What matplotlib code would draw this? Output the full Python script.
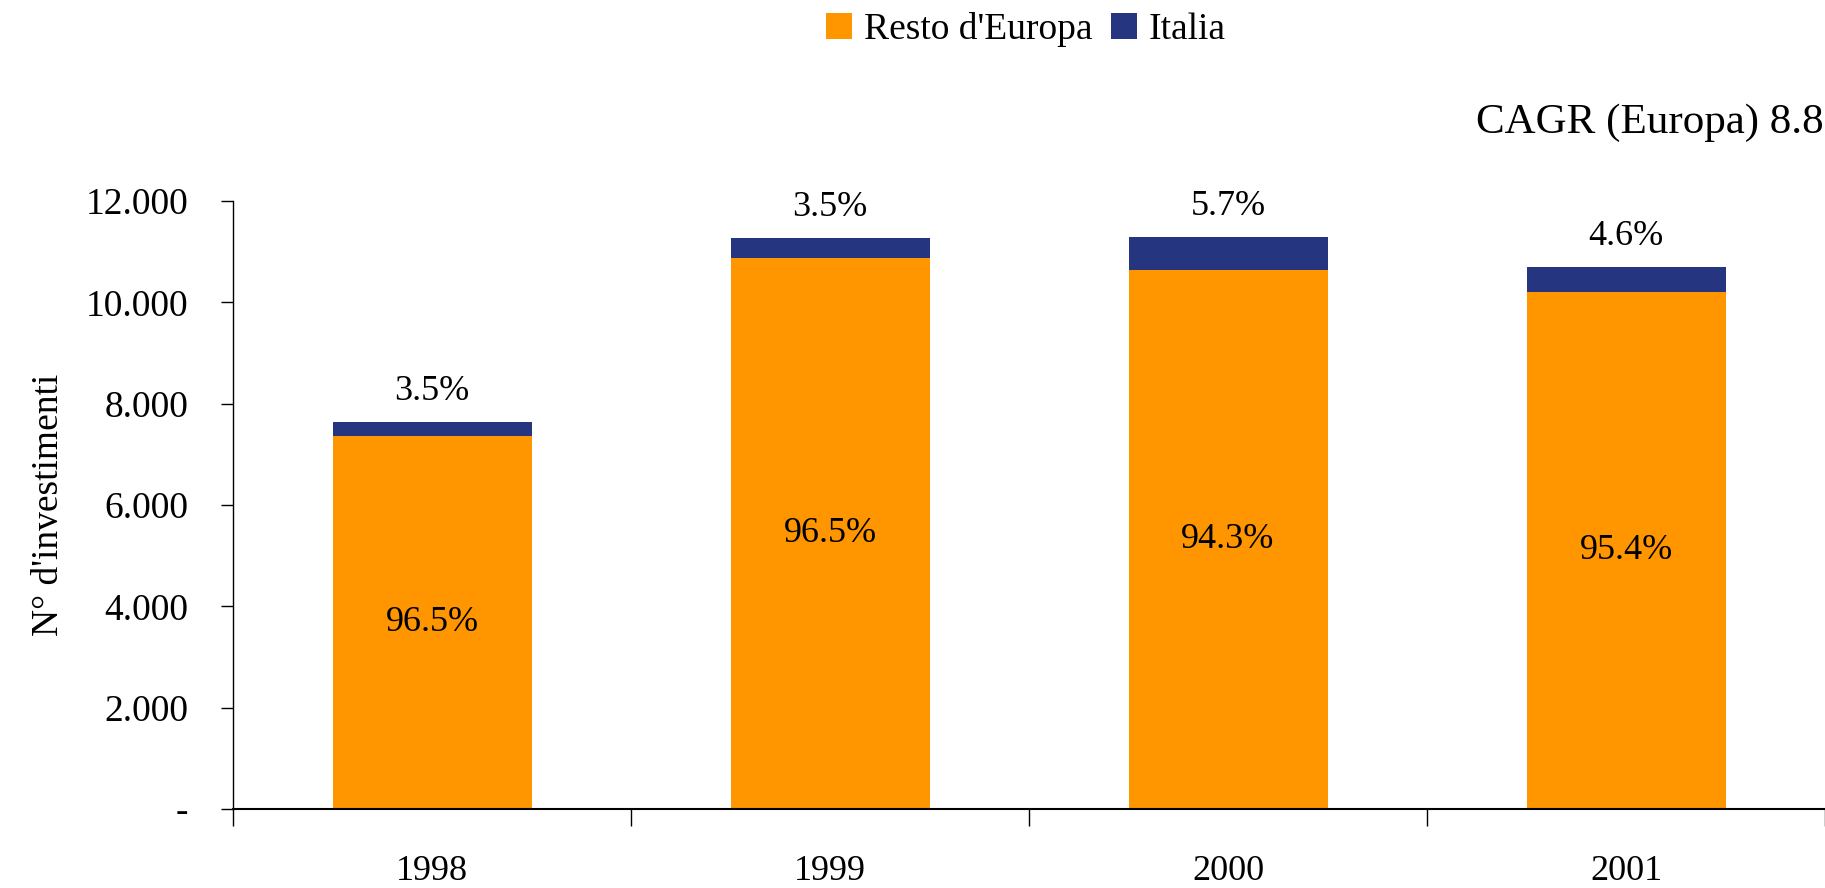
import matplotlib.pyplot as plt
import matplotlib.ticker as mticker
import numpy as np

plt.rcParams['font.family'] = ['Liberation Serif', 'DejaVu Serif']

years = ['1998', '1999', '2000', '2001']
resto = [7365, 10870, 10644, 10198]
italia = [267, 394, 643, 492]
pct_resto = ['96.5%', '96.5%', '94.3%', '95.4%']
pct_italia = ['3.5%', '3.5%', '5.7%', '4.6%']

c_resto = '#FF9600'
c_italia = '#263580'
fs = 26

fig = plt.figure(figsize=(18.25, 8.88), dpi=100)
ax = fig.add_axes([0.1277, 0.089, 0.8723, 0.6846])

x = np.arange(len(years))
ax.bar(x, resto, width=0.5, color=c_resto, label="Resto d'Europa")
ax.bar(x, italia, width=0.5, bottom=resto, color=c_italia, label='Italia')

for i in range(len(years)):
    ax.text(x[i], resto[i] / 2, pct_resto[i], ha='center', va='center', fontsize=fs)
    ax.annotate(pct_italia[i], (x[i], resto[i] + italia[i]), xytext=(0, 22),
                textcoords='offset points', ha='center', va='center', fontsize=fs)

ax.set_xlim(-0.5, 3.5)
ax.set_ylim(0, 12000)
ax.set_yticks(range(0, 12001, 2000))
ax.yaxis.set_major_formatter(mticker.FuncFormatter(
    lambda v, p: '-' if v == 0 else f'{int(v):,}'.replace(',', '.')))
ax.tick_params(axis='y', length=9, width=1, labelsize=27, pad=23)

ax.set_xticks(x)
ax.set_xticklabels(years)
ax.set_xticks(np.arange(-0.5, 3.6, 1), minor=True)
ax.tick_params(axis='x', which='major', length=0, labelsize=fs, pad=33)
ax.tick_params(axis='x', which='minor', length=12, width=1)

ax.spines['top'].set_visible(False)
ax.spines['right'].set_visible(False)
ax.spines['bottom'].set_linewidth(1.5)
ax.spines['left'].set_linewidth(1)

ax.set_ylabel("N° d'investimenti", fontsize=27, labelpad=14)

fig.legend(loc='center', bbox_to_anchor=(0.562, 0.967), ncol=2, frameon=False,
           fontsize=27, handlelength=0.7, handleheight=0.7, handletextpad=0.3,
           columnspacing=0.5)

fig.text(0.9995, 0.862, 'CAGR (Europa) 8.8', fontsize=31, ha='right', va='center')

fig.savefig('out.png', dpi=100)
